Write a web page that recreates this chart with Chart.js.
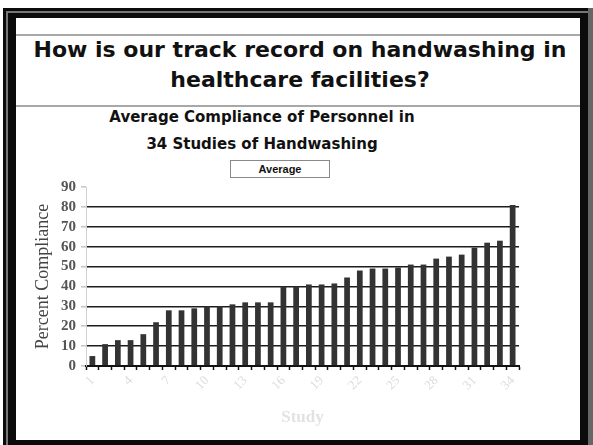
<!DOCTYPE html>
<html>
<head>
<meta charset="utf-8">
<script src="https://cdn.jsdelivr.net/npm/chart.js@4"></script>
<style>
  html, body { margin: 0; padding: 0; background: #fff; width: 593px; height: 445px; overflow: hidden; }
  .abs { position: absolute; }
  #frame { left: 3px; top: 8px; width: 600px; height: 450px; background: #0b0b0b; }
  #stripe { left: 6px; top: 11px; width: 600px; height: 450px; border-left: 2px solid #777; border-top: 2px solid #777; box-sizing: border-box; }
  #stripeR { left: 588px; top: 8px; width: 5px; height: 437px; background: #666; }
  #panel { left: 16px; top: 18px; width: 564px; height: 422px; background: #fff; }
  .rule { left: 16px; width: 564px; height: 2px; background: #a8a8a8; }
  .head { font-family: "DejaVu Sans", Verdana, sans-serif; font-weight: bold; color: #111; text-align: center; white-space: nowrap; }
  #legend { left: 230px; top: 160px; width: 100px; height: 18px; border: 1px solid #8a8a8a; box-sizing: border-box;
            font: bold 11px "Liberation Sans", Arial, sans-serif; text-align: center; line-height: 16px; color: #111; }
  #wrap { left: 16px; top: 150px; width: 564px; height: 290px; }
</style>
</head>
<body>
<div id="frame" class="abs"></div>
<div id="stripe" class="abs"></div>
<div id="stripeR" class="abs"></div>
<div id="panel" class="abs"></div>
<div class="abs rule" style="top:34px"></div>
<div class="abs rule" style="top:105px"></div>
<div class="abs head" style="left:18px;width:564px;top:35px;font-size:22px;line-height:30px;">How is our track record on handwashing in<br>healthcare facilities?</div>
<div class="abs head" style="left:60px;width:404px;top:104px;font-size:15px;line-height:27px;">Average Compliance of Personnel in<br>34 Studies of Handwashing</div>
<div id="legend" class="abs">Average</div>
<div id="wrap" class="abs"><canvas id="chart"></canvas></div>

<script>
'use strict';

// study numbers 1..34
var studies = ['1','2','3','4','5','6','7','8','9','10','11','12','13','14','15','16','17',
               '18','19','20','21','22','23','24','25','26','27','28','29','30','31','32','33','34'];

// percent compliance per study
var compliance = [5, 11, 13, 13, 16, 22, 28, 28, 29, 30, 30, 31, 32, 32, 32, 40, 40,
                  41, 41, 41.5, 44.5, 48, 49, 49, 49.5, 51, 51, 54, 55, 56, 59.5, 62, 63, 81];

// y axis ticks
var yTicks = [0, 10, 20, 30, 40, 50, 60, 70, 80, 90];

var serif = '"Liberation Serif", "Times New Roman", serif';

new Chart(document.getElementById('chart'), {
    type: 'bar',
    data: {
        labels: studies,
        datasets: [{
            label: 'Average',
            data: compliance,
            backgroundColor: '#333333',
            borderWidth: 0,
            barPercentage: 0.45,
            categoryPercentage: 1
        }]
    },
    options: {
        responsive: true,
        maintainAspectRatio: false,
        animation: false,
        layout: { padding: { top: 37, right: 61, bottom: 0, left: 0 } },
        plugins: {
            legend: { display: false },
            tooltip: { enabled: false }
        },
        scales: {
            x: {
                grid: {
                    display: true,
                    drawOnChartArea: false,
                    drawTicks: true,
                    tickLength: 4,
                    tickColor: '#111',
                    tickWidth: 1.5
                },
                border: { color: '#111', width: 2 },
                ticks: {
                    autoSkip: false,
                    minRotation: 45,
                    maxRotation: 45,
                    color: '#dcdcdc',
                    font: { family: serif, size: 13 },
                    callback: function (value, index) {
                        return index % 3 === 0 ? studies[index] : '';
                    }
                },
                title: {
                    display: true,
                    text: 'Study',
                    color: '#e2e2e2',
                    font: { family: serif, size: 17, weight: 'bold' },
                    padding: { top: 0, bottom: 12 }
                },
                afterFit: function (scale) { scale.height = 74; }
            },
            y: {
                min: yTicks[0],
                max: yTicks[yTicks.length - 1],
                afterBuildTicks: function (scale) {
                    scale.ticks = yTicks.map(function (v) { return { value: v }; });
                },
                ticks: {
                    autoSkip: false,
                    color: '#555',
                    padding: 5,
                    font: { family: serif, size: 15, weight: 'bold' }
                },
                grid: {
                    color: function (ctx) {
                        var v = ctx.tick ? ctx.tick.value : 0;
                        return (v === 0 || v === 90) ? 'rgba(0,0,0,0)' : '#1c1c1c';
                    },
                    lineWidth: 1.6,
                    tickColor: '#c8c8c8',
                    tickLength: 5
                },
                border: { color: '#d0d0d0', width: 1 },
                title: {
                    display: true,
                    text: 'Percent Compliance',
                    color: '#444',
                    font: { family: serif, size: 18 },
                    padding: { top: 16, bottom: 0 }
                },
                afterFit: function (scale) { scale.width = 70; }
            }
        }
    }
});
</script>
</body>
</html>
